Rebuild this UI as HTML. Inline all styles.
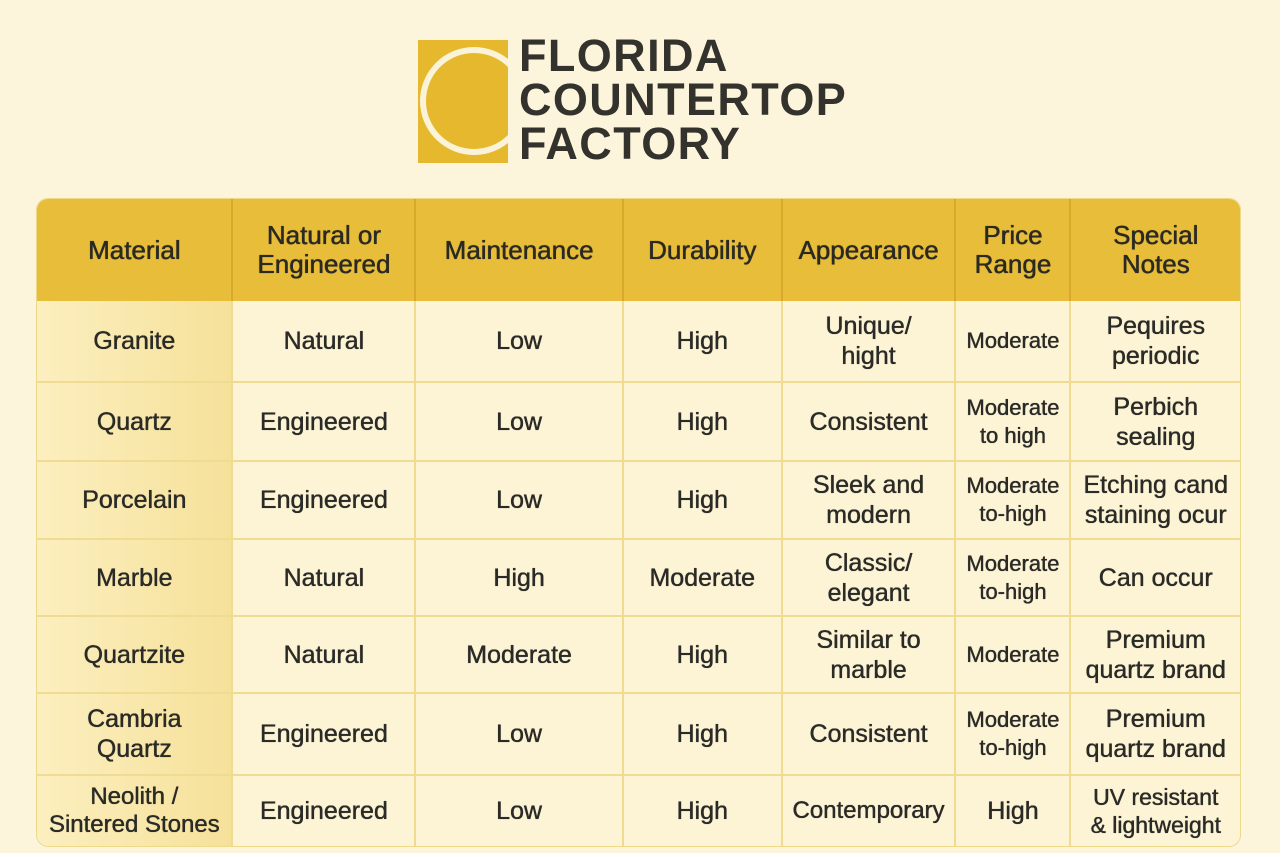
<!DOCTYPE html>
<html><head><meta charset="utf-8"><style>
body{margin:0;width:1280px;height:853px;background:#fcf5dc;font-family:"Liberation Sans","DejaVu Sans",sans-serif;position:relative;overflow:hidden;color:#2a2a26}
.logo{position:absolute;left:418px;top:40px;width:90px;height:123px;background:#e6b82e;overflow:hidden}
.logo .ring{position:absolute;left:2px;top:7px;width:108px;height:108px;border:6px solid #fbf3d8;border-radius:50%;box-sizing:border-box}
.title{position:absolute;left:519px;top:34px;font-weight:bold;font-size:45px;line-height:44px;color:#33322c;letter-spacing:1.4px}
table{position:absolute;left:36px;top:198px;border-collapse:separate;border-spacing:0;width:1205px;border-radius:12px;overflow:hidden;border:1px solid #ecd98a}
td,th{text-align:center;vertical-align:middle;border-right:2px solid #efdc92;border-bottom:2px solid #efdc92;font-size:25px;line-height:30px;padding:0 2px;background:#fdf4d6;font-weight:normal;text-shadow:0 0 0.6px #2a2a26,0.3px 0 0 #2a2a26}
th{background:#e8bd3a;font-size:26px;line-height:29px;border-right:2px solid #d9a92a;border-bottom:none;color:#2a2a22;text-shadow:0 0 0.7px #2a2a22,0.4px 0 0 #2a2a22}
td.f{background:linear-gradient(90deg,#fcefbf,#f6e19a)}
tr td:last-child,tr th:last-child{border-right:none}
tr:last-child td{border-bottom:none}
td.s{font-size:22px;line-height:28px}
</style></head><body>
<div class="logo"><div class="ring"></div></div>
<div class="title">FLORIDA<br>COUNTERTOP<br>FACTORY</div>
<table>
<colgroup><col style="width:197px"><col style="width:183px"><col style="width:208px"><col style="width:159px"><col style="width:174px"><col style="width:115px"><col style="width:169px"></colgroup>
<tr style="height:102px"><th>Material</th><th>Natural or<br>Engineered</th><th>Maintenance</th><th>Durability</th><th>Appearance</th><th>Price<br>Range</th><th>Special<br>Notes</th></tr>
<tr style="height:82px"><td class="f">Granite</td><td>Natural</td><td>Low</td><td>High</td><td>Unique/<br>hight</td><td class="s">Moderate</td><td>Pequires<br>periodic</td></tr>
<tr style="height:79px"><td class="f">Quartz</td><td>Engineered</td><td>Low</td><td>High</td><td>Consistent</td><td class="s">Moderate<br>to high</td><td>Perbich<br>sealing</td></tr>
<tr style="height:78px"><td class="f">Porcelain</td><td>Engineered</td><td>Low</td><td>High</td><td>Sleek and<br>modern</td><td class="s">Moderate<br>to-high</td><td>Etching cand<br>staining ocur</td></tr>
<tr style="height:77px"><td class="f">Marble</td><td>Natural</td><td>High</td><td>Moderate</td><td>Classic/<br>elegant</td><td class="s">Moderate<br>to-high</td><td>Can occur</td></tr>
<tr style="height:77px"><td class="f">Quartzite</td><td>Natural</td><td>Moderate</td><td>High</td><td>Similar to<br>marble</td><td class="s">Moderate</td><td>Premium<br>quartz brand</td></tr>
<tr style="height:82px"><td class="f">Cambria<br>Quartz</td><td>Engineered</td><td>Low</td><td>High</td><td>Consistent</td><td class="s">Moderate<br>to-high</td><td>Premium<br>quartz brand</td></tr>
<tr style="height:70px"><td class="f" style="font-size:24px;line-height:28px">Neolith /<br>Sintered Stones</td><td>Engineered</td><td>Low</td><td>High</td><td style="font-size:24px">Contemporary</td><td>High</td><td style="font-size:23px;line-height:28px">UV resistant<br>&amp; lightweight</td></tr>
</table>
</body></html>
